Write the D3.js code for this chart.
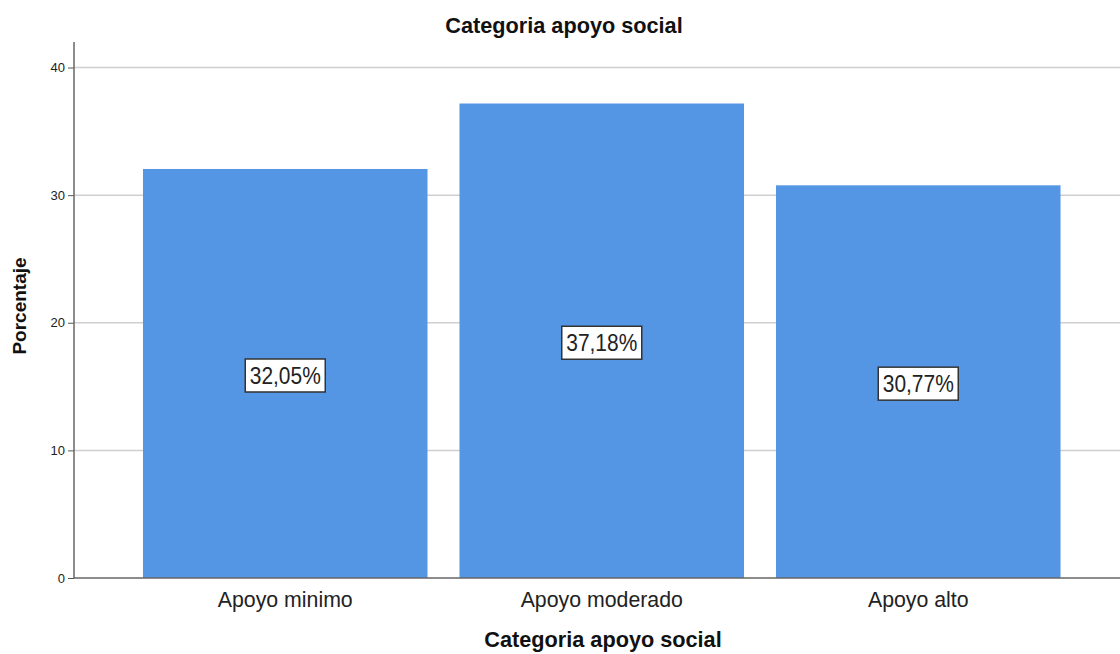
<!DOCTYPE html>
<html><head><meta charset="utf-8">
<script src="https://cdn.jsdelivr.net/npm/d3@7"></script>
<style>body{margin:0;background:#fff}svg{display:block;font-family:Arial,"Liberation Sans",sans-serif}</style>
</head><body>
<svg id="c" width="1120" height="654"></svg>
<script>
const categories = ["Apoyo minimo", "Apoyo moderado", "Apoyo alto"];
const values = [32.05, 37.18, 30.77];
const valueLabels = ["32,05%", "37,18%", "30,77%"];
const yTicks = [0, 10, 20, 30, 40];

const svg = d3.select("#c");
const x = d3.scaleBand().domain(categories).range([127, 1076.5]).paddingInner(0.101).paddingOuter(0.0505);
const y = d3.scaleLinear().domain([0, 42]).range([578, 42]);
const left = 74, right = 1120;

// grid
svg.append("g").selectAll("line").data(yTicks.filter(d => d > 0)).join("line")
  .attr("x1", left).attr("x2", right).attr("y1", d => y(d)).attr("y2", d => y(d))
  .attr("stroke", "#cfcfcf").attr("stroke-width", 1.5);

// bars
svg.append("g").selectAll("rect").data(values).join("rect")
  .attr("x", (d, i) => x(categories[i])).attr("width", x.bandwidth())
  .attr("y", d => y(d)).attr("height", d => y(0) - y(d))
  .attr("fill", "#5495e4");

// axes
const yAxis = d3.axisLeft(y).tickValues(yTicks).tickSize(6).tickPadding(3);
const gy = svg.append("g").attr("transform", `translate(${left},0)`).call(yAxis);
gy.select(".domain").remove();
gy.selectAll(".tick line").attr("stroke", "#555");
gy.selectAll(".tick text").attr("font-size", 13).attr("fill", "#222").attr("font-family", "Arial, 'Liberation Sans', sans-serif");
svg.append("line").attr("x1", left).attr("x2", left).attr("y1", y(42)).attr("y2", y(0)).attr("stroke", "#666").attr("stroke-width", 1.5);
svg.append("line").attr("x1", left).attr("x2", right).attr("y1", y(0)).attr("y2", y(0)).attr("stroke", "#666").attr("stroke-width", 1.5);

const xAxis = d3.axisBottom(x).tickSize(0).tickPadding(14);
const gx = svg.append("g").attr("transform", `translate(0,${y(0)})`).call(xAxis);
gx.select(".domain").remove();
gx.selectAll(".tick text").attr("font-size", 21.3).attr("fill", "#222").attr("font-family", "Arial, 'Liberation Sans', sans-serif");

// value labels
const lab = svg.append("g").selectAll("g").data(values).join("g")
  .attr("transform", (d, i) => `translate(${x(categories[i]) + x.bandwidth() / 2},${y(d / 2) + 2})`);
lab.append("rect").attr("x", -40).attr("y", -16.5).attr("width", 80).attr("height", 33)
  .attr("fill", "#fff").attr("stroke", "#333").attr("stroke-width", 1.5);
lab.append("text").text((d, i) => valueLabels[i]).attr("text-anchor", "middle").attr("dy", "0.36em")
  .attr("font-size", 24).attr("textLength", 71).attr("lengthAdjust", "spacingAndGlyphs").attr("fill", "#222");

// titles
svg.append("text").text("Categoria apoyo social").attr("x", 564).attr("y", 33)
  .attr("text-anchor", "middle").attr("font-weight", "bold").attr("font-size", 21.7).attr("fill", "#111");
svg.append("text").text("Categoria apoyo social").attr("x", 603).attr("y", 647)
  .attr("text-anchor", "middle").attr("font-weight", "bold").attr("font-size", 21.7).attr("fill", "#111");
svg.append("text").text("Porcentaje").attr("transform", "translate(26,306) rotate(-90)")
  .attr("text-anchor", "middle").attr("font-weight", "bold").attr("font-size", 19).attr("fill", "#111");
</script>
</body></html>
